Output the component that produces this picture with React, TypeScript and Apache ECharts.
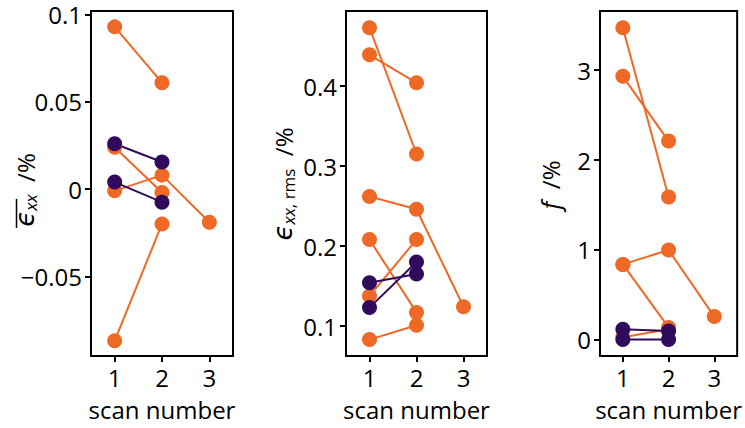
import React, { useEffect, useRef } from "react";
import * as echarts from "echarts";

// scan numbers (x)
const scanNumbers = [1, 2, 3];

// tick labels
const xTicks = [1, 2, 3];
const meanTicks = [-0.05, 0, 0.05, 0.1];
const rmsTicks = [0.1, 0.2, 0.3, 0.4];
const fTicks = [0, 1, 2, 3];

// Panel 1: mean strain (%) — orange samples
const meanOrange1 = [0.093, 0.061];
const meanOrange2 = [0.024, -0.002];
const meanOrange3 = [-0.001, 0.008, -0.019];
const meanOrange4 = [-0.087, -0.02];
// purple samples
const meanPurple1 = [0.026, 0.0155];
const meanPurple2 = [0.004, -0.0075];

// Panel 2: rms strain (%) — orange samples
const rmsOrange1 = [0.473, 0.315];
const rmsOrange2 = [0.439, 0.404];
const rmsOrange3 = [0.262, 0.246, 0.124];
const rmsOrange4 = [0.208, 0.117];
const rmsOrange5 = [0.1375, 0.208];
const rmsOrange6 = [0.083, 0.101];
// purple samples
const rmsPurple1 = [0.154, 0.165];
const rmsPurple2 = [0.123, 0.18];

// Panel 3: f (%) — orange samples
const fOrange1 = [3.47, 1.59];
const fOrange2 = [2.93, 2.21];
const fOrange3 = [0.84, 1.0, 0.26];
const fOrange4 = [0.84, 0.14];
const fOrange5 = [0.03, 0.12];
// purple samples
const fPurple1 = [0.12, 0.1];
const fPurple2 = [0.005, 0.005];

const ORANGE = "#ED6925";
const PURPLE = "#300A5C";
const FONT = "Open Sans";
const SYM_FONT = "DejaVu Sans";

const toPoints = (vals: number[]) => vals.map((v, i) => [scanNumbers[i], v]);

const fmt = (v: number) => {
  const r = Number(v.toFixed(3));
  if (r === 0) return "0";
  return r < 0 ? "\u2212" + String(Math.abs(r)) : String(r);
};

export default function App() {
  const ref = useRef<HTMLDivElement>(null);
  useEffect(() => {
    if (!ref.current) return;
    const chart = echarts.init(ref.current, undefined, { renderer: "svg" });

    const grids = [
      { left: 91, top: 11, width: 142, height: 345 },
      { left: 346, top: 11, width: 141, height: 345 },
      { left: 600, top: 11, width: 141, height: 345 },
    ];
    const yConf = [
      { min: -0.0957, max: 0.1021, ticks: meanTicks },
      { min: 0.0625, max: 0.4938, ticks: rmsTicks },
      { min: -0.178, max: 3.656, ticks: fTicks },
    ];

    const panels = [
      { orange: [meanOrange1, meanOrange2, meanOrange3, meanOrange4], purple: [meanPurple1, meanPurple2] },
      { orange: [rmsOrange1, rmsOrange2, rmsOrange3, rmsOrange4, rmsOrange5, rmsOrange6], purple: [rmsPurple1, rmsPurple2] },
      { orange: [fOrange1, fOrange2, fOrange3, fOrange4, fOrange5], purple: [fPurple1, fPurple2] },
    ];

    const series: any[] = [];
    panels.forEach((p, gi) => {
      const mk = (vals: number[], color: string) => ({
        type: "line",
        xAxisIndex: gi,
        yAxisIndex: gi,
        data: toPoints(vals),
        symbol: "circle",
        symbolSize: 15,
        showSymbol: true,
        lineStyle: { color, width: 2 },
        itemStyle: { color },
        emphasis: { disabled: true },
        silent: true,
      });
      p.orange.forEach((v) => series.push(mk(v, ORANGE)));
      p.purple.forEach((v) => series.push(mk(v, PURPLE)));
    });

    chart.setOption({
      animation: false,
      textStyle: { fontFamily: FONT },
      grid: grids.map((g) => ({
        ...g,
        show: true,
        borderColor: "#000",
        borderWidth: 2,
        backgroundColor: "transparent",
        containLabel: false,
      })),
      xAxis: grids.map((_, i) => ({
        gridIndex: i,
        type: "value",
        min: 0.5,
        max: 3.5,
        axisLine: { show: false, onZero: false },
        splitLine: { show: false },
        axisTick: { show: true, length: 6, lineStyle: { color: "#000", width: 2 }, customValues: xTicks },
        axisLabel: {
          customValues: xTicks,
          color: "#000",
          fontSize: 24,
          fontFamily: FONT,
          margin: 9,
          formatter: (v: number) => String(v),
        },
        name: "scan number",
        nameLocation: "middle",
        nameGap: 41,
        nameTextStyle: { fontSize: 24, color: "#000", fontFamily: FONT },
      })),
      yAxis: yConf.map((c, i) => ({
        gridIndex: i,
        type: "value",
        min: c.min,
        max: c.max,
        axisLine: { show: false, onZero: false },
        splitLine: { show: false },
        axisTick: { show: true, length: 6, lineStyle: { color: "#000", width: 2 }, customValues: c.ticks },
        axisLabel: {
          customValues: c.ticks,
          color: "#000",
          fontSize: 24,
          fontFamily: FONT,
          margin: 9,
          formatter: (v: number) => fmt(v),
        },
      })),
      graphic: [
        {
          type: "text",
          x: 25,
          y: 190,
          rotation: Math.PI / 2,
          style: {
            text: "{e|\u03F5}{s|xx}{n|  /%}",
            align: "center",
            verticalAlign: "middle",
            fill: "#000",
            rich: {
              e: { fontSize: 26, fontStyle: "italic", fontFamily: SYM_FONT, fill: "#000" },
              s: { fontSize: 17, fontStyle: "italic", fontFamily: FONT, fill: "#000", padding: [10, 0, 0, 0] },
              n: { fontSize: 24, fontFamily: FONT, fill: "#000" },
            },
          },
        },
        {
          type: "line",
          shape: { x1: 16.5, y1: 199, x2: 16.5, y2: 228 },
          style: { stroke: "#000", lineWidth: 1.5 },
        },
        {
          type: "text",
          x: 283,
          y: 184,
          rotation: Math.PI / 2,
          style: {
            text: "{e|\u03F5}{s|xx}{r|, rms}{n|  /%}",
            align: "center",
            verticalAlign: "middle",
            fill: "#000",
            rich: {
              e: { fontSize: 26, fontStyle: "italic", fontFamily: SYM_FONT, fill: "#000" },
              s: { fontSize: 17, fontStyle: "italic", fontFamily: FONT, fill: "#000", padding: [10, 0, 0, 0] },
              r: { fontSize: 17, fontFamily: FONT, fill: "#000", padding: [10, 0, 0, 0] },
              n: { fontSize: 24, fontFamily: FONT, fill: "#000" },
            },
          },
        },
        {
          type: "text",
          x: 550,
          y: 185,
          rotation: Math.PI / 2,
          style: {
            text: "{f|f}{n|  /%}",
            align: "center",
            verticalAlign: "middle",
            fill: "#000",
            rich: {
              f: { fontSize: 25, fontStyle: "italic", fontFamily: FONT, fill: "#000" },
              n: { fontSize: 24, fontFamily: FONT, fill: "#000" },
            },
          },
        },
      ],
      series,
    });
    return () => chart.dispose();
  }, []);
  return (
    <div
      ref={ref}
      style={{ position: "fixed", left: 0, top: 0, width: 745, height: 428, background: "#fff" }}
    />
  );
}
